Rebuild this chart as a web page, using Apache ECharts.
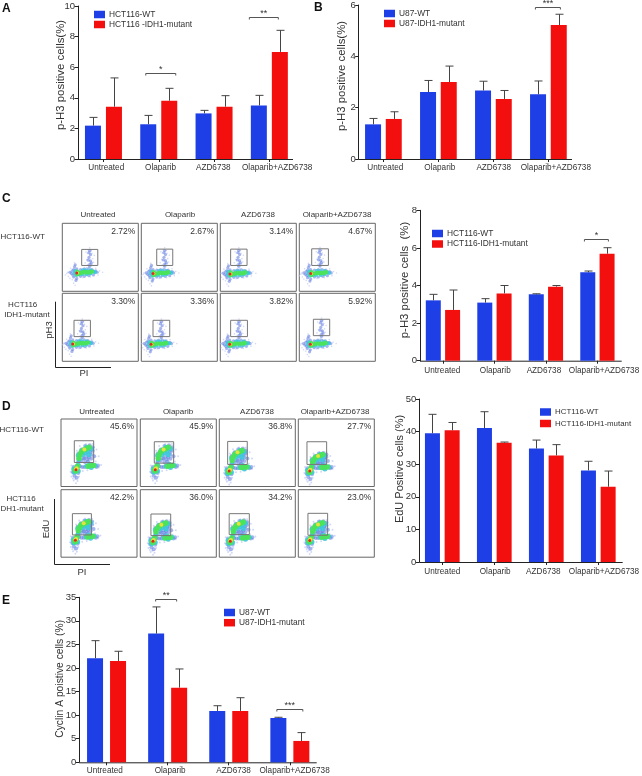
<!DOCTYPE html>
<html>
<head>
<meta charset="utf-8">
<title>p-H3, EdU and Cyclin A panels</title>
<script src="https://cdn.jsdelivr.net/npm/echarts@6/dist/echarts.min.js"></script>
<style>
  html, body { margin: 0; padding: 0; background: #fff; }
  #chart { width: 642px; height: 776px; }
</style>
</head>
<body>
<div id="chart"></div>
<script>
const categories = ['Untreated', 'Olaparib', 'AZD6738', 'Olaparib+AZD6738'];

// bar heights and the top of each error bar
const aWt = [2.18, 2.27, 2.98, 3.5];
const aWtErr = [2.72, 2.85, 3.18, 4.16];
const aMut = [3.42, 3.81, 3.42, 7.0];
const aMutErr = [5.3, 4.62, 4.14, 8.41];
const bWt = [1.35, 2.61, 2.67, 2.52];
const bWtErr = [1.58, 3.06, 3.03, 3.04];
const bMut = [1.56, 3.0, 2.34, 5.22];
const bMutErr = [1.84, 3.62, 2.67, 5.64];
const cWt = [3.21, 3.09, 3.53, 4.7];
const cWtErr = [3.53, 3.3, 3.56, 4.77];
const cMut = [2.7, 3.58, 3.94, 5.69];
const cMutErr = [3.76, 4.0, 4.0, 6.01];
const dWt = [39.5, 41.1, 34.8, 28.1];
const dWtErr = [45.3, 46.1, 37.4, 30.9];
const dMut = [40.4, 36.6, 32.7, 23.1];
const dMutErr = [42.8, 36.8, 36.0, 27.9];
const eWt = [22.06, 27.3, 10.9, 9.4];
const eWtErr = [25.8, 32.96, 12.0, 9.55];
const eMut = [21.5, 15.84, 10.9, 4.53];
const eMutErr = [23.55, 19.8, 13.7, 6.3];

// significance brackets: group, level, stars
const aSig = [[1, 5.6, '*'], [3, 9.26, '**']];
const bSig = [[3, 5.93, '***']];
const cSig = [[3, 6.5, '*']];
const dSig = [];
const eSig = [[1, 34.65, '**'], [3, 11.3, '***']];

// flow plot percentages, row by row
const cPercents = [['2.72%', '2.67%', '3.14%', '4.67%'], ['3.30%', '3.36%', '3.82%', '5.92%']];
const dPercents = [['45.6%', '45.9%', '36.8%', '27.7%'], ['42.2%', '36.0%', '34.2%', '23.0%']];

// gates [x0, y0, x1, y1] in percent of the plot
const cGates = [
  [[25.5, 38, 46.7, 61.6], [20.3, 38, 41.4, 62], [13.6, 38, 35.2, 62], [16.3, 38, 38.3, 62.5]],
  [[15.4, 36.3, 37, 60.3], [15.4, 36.3, 37.4, 60.3], [13.6, 36.3, 35.7, 60.3], [18.5, 37.7, 40, 61.8]],
];
const dGates = [
  [[17.5, 35.6, 43, 67.8], [18.4, 34.6, 43.9, 66.3], [11, 32.7, 36.8, 66.8], [11.4, 32.7, 37.3, 66.3]],
  [[15, 33, 40, 64.5], [14, 32, 40, 64], [13, 33.5, 39.5, 64.5], [12.7, 32.5, 38.6, 65]],
];
// where the red core of each population sits
const cCores = [
  [[19, 27], [15.4, 26], [12.8, 25.6], [15, 26]],
  [[13.7, 25.5], [12.8, 25], [12.3, 25], [14.5, 25]],
];
const dCores = [
  [[19.7, 25], [19.7, 25], [13, 23], [15, 23]],
  [[18.9, 25], [16.7, 23.6], [14.5, 23.6], [15, 24.6]],
];
// how tall the S phase arc is in each D plot
const dArc = [[1, 1, 0.92, 0.74], [0.84, 0.82, 0.86, 0.8]];

// density layers of one C plot, relative to the core
const cBody = {
  sparse: [[-15, -3], [-12, 1], [-11, -5], [-8, 7], [-6, -10], [-4, -15], [-3, 15], [-2, -18], [30, 3], [34, 1], [28, -3], [25, 7], [13, 8], [8, -7], [-9, -8], [-13, -1], [18, -6]],
  blue: [[-7, -1], [-4, 5], [-4, -6], [-3, 9], [-2, 12], [0, 6], [0, -8], [-1, -11], [5, 5], [10, 6], [15, 6], [20, 5], [25, 3], [5, -5], [10, -5], [16, -4], [22, -3], [27, 1], [-9, 1], [-6, 3], [-5, -3]],
  cyan: [[-3, 0], [-2, 3], [-1, -3], [3, -2], [7, -2], [12, 4], [13, -2], [18, -1], [22, 2], [8, 4], [18, 4], [24, 1]],
  green: [[2, 0], [5, 0], [8, 1], [11, 1], [14, 1], [17, 1], [20, 2], [1, 2], [1, -2]],
  yellow: [[1, 0]],
  core: [[0, 0]],
};
// cells inside the gate, relative to its centre
const cGated = {
  sparse: [[-3, -11], [3, -10], [-4, -3], [4, -2], [-3, 6], [3, 6], [-2, 11], [2, 10], [0, 14], [-1, -14], [-6, -8], [6, 3], [5, -7], [-5, 8]],
  blue: [[0, -10], [1, -5], [-1, 0], [1, 4], [-1, 7], [0, -13], [2, -8], [-2, -4], [0, 10]],
};
// density layers of one D plot, relative to the core
const dBody = {
  sparse: [[-6, -10], [-7, -3], [-6, 6], [-3, -16], [0, -20], [-1, -14], [2, 11], [4, -10], [9, -2], [15, -1], [30, 3], [33, 7], [1, 28], [5, 35], [13, 38], [22, 38], [27, 30], [30, 20], [26, 12], [-4, -13], [2, -17]],
  blue: [[-4, -4], [-3, 4], [-2, -9], [3, -5], [5, 5], [8, 4], [11, 4], [3, 12], [7, 13], [10, 17], [14, 20], [17, 18], [20, 22], [22, 28], [3, 24], [7, 30], [12, 35], [18, 36], [22, 33], [12, 11], [16, 12], [20, 16], [24, 20], [27, 4], [29, 6], [1, -12], [11, 16], [15, 15], [19, 26]],
  cyan: [[-2, -4], [-3, 1], [3, 7], [4, 15], [3, 21], [9, 22], [12, 25], [16, 27], [20, 31], [14, 33], [14, 5], [18, 8], [25, 6], [20, 3], [3, -2], [8, 28], [17, 22]],
  green: [[-1, -1], [1, 2], [2, 5], [4, 17], [5, 22], [7, 26], [10, 29], [14, 31], [17, 33], [16, 5], [20, 6], [23, 6], [0, -2]],
  yellow: [[0, 1], [1, 2], [11, 30]],
  core: [[0, 0]],
};

const densityStyles = {
  sparse: { color: '#b4c0f2', size: 2, opacity: 0.6 },
  blue: { color: '#5c78e0', size: 4, opacity: 0.55 },
  cyan: { color: '#3cc6dc', size: 5, opacity: 0.9 },
  green: { color: '#4be25c', size: 5.5, opacity: 1 },
  yellow: { color: '#e6e23e', size: 4, opacity: 1 },
  core: { color: '#de2a1c', size: 3, opacity: 1 },
};

const TEXT = '#333';
const FONT = '"Liberation Sans", Arial, sans-serif';
const BLUE = '#1f3fe6';
const RED = '#f40f0f';

const barPanels = [
  { wt: aWt, wtErr: aWtErr, mut: aMut, mutErr: aMutErr, sig: aSig, span: [[-13, 17], [-20, 9]], wtName: 'HCT116-WT', mutName: 'HCT116 -IDH1-mutant',
    left: 75.8, right: 297, top: 6, bottom: 159, axisLeft: 78, axisRight: 293, max: 10, interval: 2, barW: 16, gap: 5, labelMargin: 4.5, labelShift: [2.8, 1.8, -0.8, 7.8],
    yName: 'p-H3 positive cells(%)', nameGap: 12, namePad: 15, nameSize: 11.4, legend: [94, 10.5], legendGap: 2, legendFont: 8.4 },
  { wt: bWt, wtErr: bWtErr, mut: bMut, mutErr: bMutErr, sig: bSig, span: [[-13, 12]], wtName: 'U87-WT', mutName: 'U87-IDH1-mutant',
    left: 355.9, right: 575.9, top: 5, bottom: 159, axisLeft: 358.7, axisRight: 572, max: 6, interval: 2, barW: 16, gap: 4.7, labelMargin: 4.5, labelShift: [1.9, 1.4, 0.3, 7.4],
    yName: 'p-H3 positive cells(%)', nameGap: 11, namePad: 12, nameSize: 11.4, legend: [384, 9.5], legendGap: 2, legendFont: 8.4 },
  { wt: cWt, wtErr: cWtErr, mut: cMut, mutErr: cMutErr, sig: cSig, span: [[-13, 11]], wtName: 'HCT116-WT', mutName: 'HCT116-IDH1-mutant',
    left: 417.2, right: 624.6, top: 210.3, bottom: 360.7, axisLeft: 420, axisRight: 621.7, max: 8, interval: 2, barW: 15, gap: 4.3, labelMargin: 6.5, labelShift: [-0.6, 0.8, -2, 6.6],
    yName: 'p-H3 positive cells  (%)', nameGap: 10, namePad: 11, nameSize: 11.4, legend: [432, 229.5], legendGap: 2.5, legendFont: 8.4 },
  { wt: dWt, wtErr: dWtErr, mut: dMut, mutErr: dMutErr, sig: dSig, span: [], wtName: 'HCT116-WT', mutName: 'HCT116-IDH1-mutant',
    left: 416.3, right: 625.5, top: 399, bottom: 562, axisLeft: 419.3, axisRight: 622.7, max: 50, interval: 10, barW: 15, gap: 4.7, labelMargin: 6, labelShift: [0, 0.9, -3, 5.7],
    yName: 'EdU Positive cells (%)', nameGap: 14, namePad: 23, nameSize: 11, legend: [540, 408], legendGap: 3.5, legendFont: 7.9 },
  { wt: eWt, wtErr: eWtErr, mut: eMut, mutErr: eMutErr, sig: eSig, span: [[-12, 9], [-13, 13]], wtName: 'U87-WT', mutName: 'U87-IDH1-mutant',
    left: 76, right: 320.4, top: 597.3, bottom: 762.3, axisLeft: 79.3, axisRight: 316.7, max: 35, interval: 5, barW: 16, gap: 7, labelMargin: 4, labelShift: [-1.7, 2.5, 4.8, 4.7],
    yName: 'Cyclin A poistive cells (%)', nameGap: 14.6, namePad: 2, nameSize: 10.3, legend: [224, 608.5], legendGap: 2.2, legendFont: 8.4 },
];

const flowBlocks = [
  { percents: cPercents, gates: cGates, cores: cCores, body: cBody, gated: cGated, colX: [62.3, 141.3, 220.3, 299.3], rowY: [223.3, 293.3], w: 76, h: 68 },
  { percents: dPercents, gates: dGates, cores: dCores, body: dBody, arc: dArc, colX: [61, 140.3, 219.3, 298.3], rowY: [419, 489.7], w: 76, h: 67.5 },
];

const grids = [];
const xAxes = [];
const yAxes = [];
const series = [];
const legends = [];
const graphics = [];

const addText = (text, x, y, size, opts = {}) => {
  graphics.push({
    type: 'text', x, y, rotation: opts.rotation || 0, silent: true,
    style: {
      text, font: `${opts.weight || 'normal'} ${size}px ${FONT}`, fill: opts.fill || TEXT,
      align: opts.align || 'center', verticalAlign: 'middle',
    },
  });
};

const addLine = (x1, y1, x2, y2, stroke = '#222', lineWidth = 1) => {
  graphics.push({ type: 'line', silent: true, shape: { x1, y1, x2, y2 }, style: { stroke, lineWidth } });
};

const errorRender = (dx) => (params, api) => {
  const top = api.coord([api.value(0), api.value(1)]);
  const base = api.coord([api.value(0), api.value(2)]);
  const x = Math.round(top[0] + dx) + 0.5;
  const style = { stroke: '#444', lineWidth: 1 };
  return {
    type: 'group',
    children: [
      { type: 'line', shape: { x1: x, y1: base[1], x2: x, y2: top[1] }, style },
      { type: 'line', shape: { x1: x - 4, y1: top[1], x2: x + 4, y2: top[1] }, style },
    ],
  };
};

barPanels.forEach((p) => {
  const index = grids.length;
  const height = p.bottom - p.top;
  grids.push({ left: p.left, top: p.top, width: p.right - p.left, height });
  xAxes.push({
    gridIndex: index, type: 'category',
    // labels in the figure sit a little off their ticks
    data: categories.map((value, i) => {
      const shift = p.labelShift[i] * 2;
      return { value, textStyle: { padding: shift >= 0 ? [0, 0, 0, shift] : [0, -shift, 0, 0] } };
    }),
    axisLine: { show: false },
    axisTick: { show: true, alignWithLabel: true, length: 3, lineStyle: { color: '#222' } },
    axisLabel: { interval: 0, color: TEXT, fontSize: 8.2, fontFamily: FONT, margin: p.labelMargin },
  });
  yAxes.push({
    gridIndex: index, type: 'value', min: 0, max: p.max, interval: p.interval, offset: p.left - p.axisLeft,
    name: p.yName, nameLocation: 'middle', nameGap: p.nameGap, nameMoveOverlap: false,
    nameTextStyle: { color: TEXT, fontSize: p.nameSize, fontFamily: FONT, padding: [0, 0, 0, p.namePad] },
    splitLine: { show: false },
    axisLine: { show: true, lineStyle: { color: '#222', width: 1 } },
    axisTick: { show: true, length: 3.5, lineStyle: { color: '#222' } },
    axisLabel: { color: TEXT, fontSize: 9.5, fontFamily: FONT, margin: 3 },
  });
  addLine(p.axisLeft, p.bottom + 0.5, p.axisRight, p.bottom + 0.5);

  const barGap = `${(p.gap / p.barW) * 100}%`;
  const dx = (p.barW + p.gap) / 2;
  const base = { type: 'bar', xAxisIndex: index, yAxisIndex: index, barWidth: p.barW, barGap };
  series.push({ ...base, name: p.wtName, data: p.wt, itemStyle: { color: BLUE } });
  series.push({ ...base, name: p.mutName, data: p.mut, itemStyle: { color: RED } });

  [[p.wtErr, p.wt, -dx], [p.mutErr, p.mut, dx]].forEach(([err, vals, off]) => {
    series.push({
      type: 'custom', xAxisIndex: index, yAxisIndex: index, silent: true, clip: false, z: 5,
      renderItem: errorRender(off),
      encode: { x: 0, y: 1 },
      data: err.map((hi, i) => [i, hi, vals[i]]),
    });
  });

  if (p.sig.length) {
    series.push({
      type: 'custom', xAxisIndex: index, yAxisIndex: index, silent: true, clip: false, z: 6,
      encode: { x: 0, y: 1 },
      data: p.sig.map((s) => [s[0], s[1]]),
      renderItem: (params, api) => {
        const at = api.coord([api.value(0), api.value(1)]);
        const [from, to] = p.span[params.dataIndex];
        const y = Math.round(at[1]) + 0.5;
        const x0 = at[0] + from;
        const x1 = at[0] + to;
        return {
          type: 'group',
          children: [
            { type: 'polyline', shape: { points: [[x0, y + 2], [x0, y], [x1, y], [x1, y + 2]] }, style: { stroke: '#555', lineWidth: 1, fill: 'none' } },
            { type: 'text', style: { text: p.sig[params.dataIndex][2], x: (x0 + x1) / 2, y: y - 4, align: 'center', verticalAlign: 'middle', fill: '#333', font: `9px ${FONT}` } },
          ],
        };
      },
    });
  }

  legends.push({
    left: p.legend[0], top: p.legend[1], orient: 'vertical', itemWidth: 11, itemHeight: 7.5, itemGap: p.legendGap,
    selectedMode: false, icon: 'rect', padding: 0,
    data: [p.wtName, p.mutName],
    textStyle: { color: TEXT, fontSize: p.legendFont, fontFamily: FONT, padding: [0, 0, 0, -1] },
  });
});

const gateRender = (params, api) => {
  const a = api.coord([api.value(0), api.value(1)]);
  const b = api.coord([api.value(2), api.value(3)]);
  return {
    type: 'rect',
    shape: { x: a[0], y: b[1], width: b[0] - a[0], height: a[1] - b[1] },
    style: { fill: 'none', stroke: '#777', lineWidth: 1 },
  };
};

flowBlocks.forEach((block) => {
  block.rowY.forEach((y, r) => {
    block.colX.forEach((x, c) => {
      const index = grids.length;
      grids.push({ left: x, top: y, width: block.w, height: block.h, show: true, borderColor: '#666', borderWidth: 1, backgroundColor: '#fff' });
      xAxes.push({ gridIndex: index, type: 'value', min: 0, max: 100, show: false });
      yAxes.push({ gridIndex: index, type: 'value', min: 0, max: 100, show: false });

      const core = block.cores[r][c];
      const gate = block.gates[r][c];
      const arc = block.arc ? block.arc[r][c] : 1;
      const gateCx = (gate[0] + gate[2]) / 2;
      const gateCy = (gate[1] + gate[3]) / 2;

      Object.keys(densityStyles).forEach((layer) => {
        const st = densityStyles[layer];
        const points = block.body[layer].map(([dx, dy]) => [core[0] + dx, core[1] + (dy > 10 ? dy * arc : dy)]);
        if (block.gated && block.gated[layer]) {
          block.gated[layer].forEach(([dx, dy]) => points.push([gateCx + dx, gateCy + dy]));
        }
        series.push({
          type: 'scatter', xAxisIndex: index, yAxisIndex: index, silent: true, data: points,
          symbolSize: block.gated && layer !== 'core' ? st.size * 0.8 : st.size,
          itemStyle: { color: st.color, opacity: st.opacity },
        });
      });

      series.push({
        type: 'custom', xAxisIndex: index, yAxisIndex: index, silent: true, z: 4,
        renderItem: gateRender,
        encode: { x: [0, 2], y: [1, 3] },
        data: [gate],
      });

      addText(block.percents[r][c], x + block.w - 3, y + 8, 8.5, { align: 'right' });
    });
  });
});

// panel letters
[['A', 2, 9], ['B', 314, 8], ['C', 2, 199], ['D', 2, 407], ['E', 2, 601]].forEach(([t, x, y]) => {
  addText(t, x, y, 12, { weight: 'bold', align: 'left', fill: '#111' });
});

// flow plot headers and row labels
[[98, 215], [180, 215], [258, 215], [337, 215]].forEach(([x, y], i) => addText(categories[i], x, y, 8));
[[96.7, 411.7], [178, 411.7], [257, 411.7], [335, 411.7]].forEach(([x, y], i) => addText(categories[i], x, y, 8));
addText('HCT116-WT', 22.7, 236.7, 8);
addText('HCT116', 22.7, 305, 8);
addText('IDH1-mutant', 27, 315, 8);
addText('HCT116-WT', 21.7, 430, 8);
addText('HCT116', 21, 499, 8);
addText('IDH1-mutant', 21, 509, 8);

// PI / pH3 and PI / EdU corners
addLine(55.5, 301.7, 55.5, 367.5);
addLine(55.5, 367.5, 111, 367.5);
addText('pH3', 49.3, 330, 9.5, { rotation: Math.PI / 2 });
addText('PI', 84, 373, 9.5);
addLine(54.5, 499, 54.5, 564.5);
addLine(54.5, 564.5, 110, 564.5);
addText('EdU', 46.7, 529, 9.5, { rotation: Math.PI / 2 });
addText('PI', 82, 572, 9.5);

const chart = echarts.init(document.getElementById('chart'), null, { renderer: 'canvas' });
chart.setOption({
  animation: false,
  backgroundColor: '#fff',
  textStyle: { fontFamily: FONT },
  grid: grids,
  xAxis: xAxes,
  yAxis: yAxes,
  legend: legends,
  series,
  graphic: graphics,
});
</script>
</body>
</html>
